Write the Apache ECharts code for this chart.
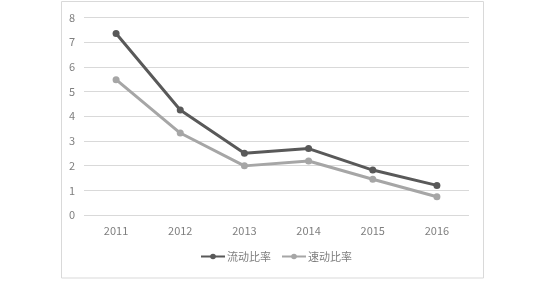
<!DOCTYPE html>
<html><head><meta charset="utf-8">
<script src="https://cdn.jsdelivr.net/npm/echarts@6/dist/echarts.min.js"></script>
<style>html,body{margin:0;padding:0;background:#fff}#c{width:541px;height:286px}</style>
</head><body><div id="c"></div>
<script>
const categories = ['2011','2012','2013','2014','2015','2016'];
const currentRatio = [7.35, 4.25, 2.5, 2.69, 1.82, 1.2];
const quickRatio = [5.48, 3.32, 1.99, 2.19, 1.45, 0.74];
const seriesNames = ['流动比率','速动比率'];
const yTicks = {min:0, max:8, interval:1};

const chart = echarts.init(document.getElementById('c'));
const font = '"Noto Sans CJK JP", "Noto Sans", sans-serif';
chart.setOption({
  animation:false,
  textStyle:{fontFamily:font},
  graphic:[{type:'rect',shape:{x:61.5,y:1.5,width:422,height:276.5},style:{fill:'none',stroke:'#d9d9d9',lineWidth:1}}],
  grid:{left:84,right:72,top:17.5,bottom:71},
  legend:{bottom:19,left:195,itemWidth:24,itemHeight:7,itemGap:10,
    textStyle:{color:'#7f7f7f',fontSize:11,fontFamily:font,padding:[0,0,0,-3]},
    data:seriesNames},
  xAxis:{type:'category',data:categories,boundaryGap:true,
    axisLine:{show:false},axisTick:{show:false},
    axisLabel:{color:'#7f7f7f',fontSize:11,margin:10,fontFamily:font}},
  yAxis:{type:'value',min:yTicks.min,max:yTicks.max,interval:yTicks.interval,
    axisLine:{show:false},axisTick:{show:false},
    axisLabel:{color:'#7f7f7f',fontSize:11,margin:9,fontFamily:font},
    splitLine:{lineStyle:{color:'#d9d9d9',width:1}}},
  series:[
    {name:seriesNames[0],type:'line',data:currentRatio,symbol:'circle',symbolSize:7,
     lineStyle:{color:'#595959',width:3},itemStyle:{color:'#595959'}},
    {name:seriesNames[1],type:'line',data:quickRatio,symbol:'circle',symbolSize:7,
     lineStyle:{color:'#a6a6a6',width:3},itemStyle:{color:'#a6a6a6'}}
  ]
});
</script></body></html>
